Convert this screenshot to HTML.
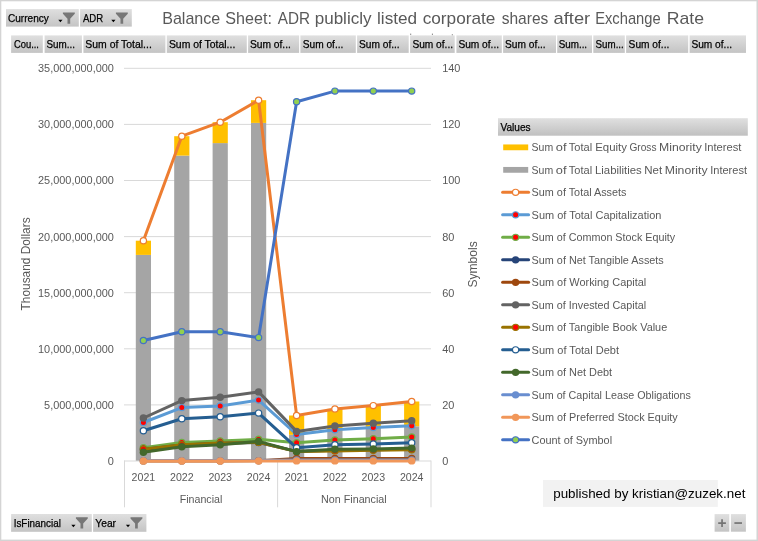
<!DOCTYPE html>
<html lang="en"><head><meta charset="utf-8"><title>Balance Sheet: ADR publicly listed corporate shares after Exchange Rate</title>
<style>
html,body{margin:0;padding:0;background:#fff;}
body{width:758px;height:541px;overflow:hidden;font-family:"Liberation Sans", sans-serif;}
svg{display:block;font-family:"Liberation Sans", sans-serif;}
</style></head><body>
<svg width="758" height="541" viewBox="0 0 758 541">
<defs>
<linearGradient id="btn" x1="0" y1="0" x2="0" y2="1"><stop offset="0" stop-color="#dfdfdf"/><stop offset="1" stop-color="#c4c4c4"/></linearGradient>
<linearGradient id="hdr" x1="0" y1="0" x2="0" y2="1"><stop offset="0" stop-color="#e0e0e0"/><stop offset="1" stop-color="#c0c0c0"/></linearGradient>
</defs>
<rect x="0" y="0" width="758" height="541" fill="#fff"/>

<rect x="0" y="0" width="758" height="1.3" fill="#d4d4d4"/><rect x="0" y="0" width="1.3" height="541" fill="#d4d4d4"/>
<rect x="756.5" y="0" width="1.5" height="541" fill="#d4d4d4"/><rect x="0" y="539.6" width="758" height="1.4" fill="#d4d4d4"/>
<text y="23.9" font-size="16.6" fill="#595959">
<tspan x="162.2" textLength="58.1" lengthAdjust="spacingAndGlyphs">Balance</tspan> 
<tspan x="225.3" textLength="46.6" lengthAdjust="spacingAndGlyphs">Sheet:</tspan> 
<tspan x="277.7" textLength="32.3" lengthAdjust="spacingAndGlyphs">ADR</tspan> 
<tspan x="314.7" textLength="56.8" lengthAdjust="spacingAndGlyphs">publicly</tspan> 
<tspan x="377.0" textLength="40.1" lengthAdjust="spacingAndGlyphs">listed</tspan> 
<tspan x="422.7" textLength="72.7" lengthAdjust="spacingAndGlyphs">corporate</tspan> 
<tspan x="501.7" textLength="46.6" lengthAdjust="spacingAndGlyphs">shares</tspan> 
<tspan x="553.5" textLength="36.7" lengthAdjust="spacingAndGlyphs">after</tspan> 
<tspan x="595.2" textLength="65.5" lengthAdjust="spacingAndGlyphs">Exchange</tspan> 
<tspan x="666.8" textLength="37.3" lengthAdjust="spacingAndGlyphs">Rate</tspan> 
</text>
<rect x="410.2" y="33.7" width="1" height="1" fill="#555"/>
<rect x="431.9" y="33.7" width="1" height="1" fill="#555"/>
<rect x="451.8" y="34.4" width="1" height="1" fill="#555"/>
<rect x="124.0" y="404.40" width="307.0" height="1" fill="#d9d9d9"/>
<rect x="124.0" y="348.30" width="307.0" height="1" fill="#d9d9d9"/>
<rect x="124.0" y="292.20" width="307.0" height="1" fill="#d9d9d9"/>
<rect x="124.0" y="236.10" width="307.0" height="1" fill="#d9d9d9"/>
<rect x="124.0" y="180.00" width="307.0" height="1" fill="#d9d9d9"/>
<rect x="124.0" y="123.90" width="307.0" height="1" fill="#d9d9d9"/>
<rect x="124.0" y="67.80" width="307.0" height="1" fill="#d9d9d9"/>
<text x="113.9" y="464.9" font-size="10.9" fill="#595959" text-anchor="end" textLength="6.1" lengthAdjust="spacingAndGlyphs">0</text>
<text x="113.9" y="408.8" font-size="10.9" fill="#595959" text-anchor="end" textLength="69.8" lengthAdjust="spacingAndGlyphs">5,000,000,000</text>
<text x="113.9" y="352.7" font-size="10.9" fill="#595959" text-anchor="end" textLength="75.9" lengthAdjust="spacingAndGlyphs">10,000,000,000</text>
<text x="113.9" y="296.6" font-size="10.9" fill="#595959" text-anchor="end" textLength="75.9" lengthAdjust="spacingAndGlyphs">15,000,000,000</text>
<text x="113.9" y="240.5" font-size="10.9" fill="#595959" text-anchor="end" textLength="75.9" lengthAdjust="spacingAndGlyphs">20,000,000,000</text>
<text x="113.9" y="184.4" font-size="10.9" fill="#595959" text-anchor="end" textLength="75.9" lengthAdjust="spacingAndGlyphs">25,000,000,000</text>
<text x="113.9" y="128.3" font-size="10.9" fill="#595959" text-anchor="end" textLength="75.9" lengthAdjust="spacingAndGlyphs">30,000,000,000</text>
<text x="113.9" y="72.2" font-size="10.9" fill="#595959" text-anchor="end" textLength="75.9" lengthAdjust="spacingAndGlyphs">35,000,000,000</text>
<text x="442.2" y="464.9" font-size="10.9" fill="#595959" text-anchor="start" textLength="6.1" lengthAdjust="spacingAndGlyphs">0</text>
<text x="442.2" y="408.8" font-size="10.9" fill="#595959" text-anchor="start" textLength="12.2" lengthAdjust="spacingAndGlyphs">20</text>
<text x="442.2" y="352.7" font-size="10.9" fill="#595959" text-anchor="start" textLength="12.2" lengthAdjust="spacingAndGlyphs">40</text>
<text x="442.2" y="296.6" font-size="10.9" fill="#595959" text-anchor="start" textLength="12.2" lengthAdjust="spacingAndGlyphs">60</text>
<text x="442.2" y="240.5" font-size="10.9" fill="#595959" text-anchor="start" textLength="12.2" lengthAdjust="spacingAndGlyphs">80</text>
<text x="442.2" y="184.4" font-size="10.9" fill="#595959" text-anchor="start" textLength="18.2" lengthAdjust="spacingAndGlyphs">100</text>
<text x="442.2" y="128.3" font-size="10.9" fill="#595959" text-anchor="start" textLength="18.2" lengthAdjust="spacingAndGlyphs">120</text>
<text x="442.2" y="72.2" font-size="10.9" fill="#595959" text-anchor="start" textLength="18.2" lengthAdjust="spacingAndGlyphs">140</text>
<text transform="translate(30.2 263.9) rotate(-90)" font-size="12.1" fill="#595959" text-anchor="middle" textLength="93" lengthAdjust="spacingAndGlyphs">Thousand Dollars</text>
<text transform="translate(476.6 264.4) rotate(-90)" font-size="12.1" fill="#595959" text-anchor="middle" textLength="46.3" lengthAdjust="spacingAndGlyphs">Symbols</text>
<rect x="135.80" y="254.9" width="15.2" height="206.10" fill="#a5a5a5"/>
<rect x="135.80" y="240.7" width="15.2" height="14.20" fill="#ffc000"/>
<rect x="174.20" y="155.6" width="15.2" height="305.40" fill="#a5a5a5"/>
<rect x="174.20" y="136.2" width="15.2" height="19.40" fill="#ffc000"/>
<rect x="212.60" y="143.1" width="15.2" height="317.90" fill="#a5a5a5"/>
<rect x="212.60" y="122.2" width="15.2" height="20.90" fill="#ffc000"/>
<rect x="251.00" y="122.9" width="15.2" height="338.10" fill="#a5a5a5"/>
<rect x="251.00" y="100.2" width="15.2" height="22.70" fill="#ffc000"/>
<rect x="289.00" y="434.8" width="15.2" height="26.20" fill="#a5a5a5"/>
<rect x="289.00" y="415.5" width="15.2" height="19.30" fill="#ffc000"/>
<rect x="327.30" y="430.8" width="15.2" height="30.20" fill="#a5a5a5"/>
<rect x="327.30" y="408.9" width="15.2" height="21.90" fill="#ffc000"/>
<rect x="365.70" y="427.9" width="15.2" height="33.10" fill="#a5a5a5"/>
<rect x="365.70" y="405.6" width="15.2" height="22.30" fill="#ffc000"/>
<rect x="404.10" y="426.3" width="15.2" height="34.70" fill="#a5a5a5"/>
<rect x="404.10" y="401.5" width="15.2" height="24.80" fill="#ffc000"/>
<rect x="124.0" y="460.5" width="307.0" height="1" fill="#d9d9d9"/>
<rect x="124.00" y="460.5" width="1" height="46.8" fill="#d9d9d9"/>
<rect x="277.10" y="460.5" width="1" height="46.8" fill="#d9d9d9"/>
<rect x="430.50" y="460.5" width="1" height="46.8" fill="#d9d9d9"/>
<polyline points="143.4,240.7 181.8,136.2 220.2,122.2 258.6,100.2 296.6,415.5 334.9,408.9 373.3,405.6 411.7,401.5" fill="none" stroke="#ed7d31" stroke-width="3.0" stroke-linejoin="round" stroke-linecap="round"/>
<circle cx="143.4" cy="240.7" r="3.12" fill="#ffffff" stroke="#ed7d31" stroke-width="1.2"/>
<circle cx="181.8" cy="136.2" r="3.12" fill="#ffffff" stroke="#ed7d31" stroke-width="1.2"/>
<circle cx="220.2" cy="122.2" r="3.12" fill="#ffffff" stroke="#ed7d31" stroke-width="1.2"/>
<circle cx="258.6" cy="100.2" r="3.12" fill="#ffffff" stroke="#ed7d31" stroke-width="1.2"/>
<circle cx="296.6" cy="415.5" r="3.12" fill="#ffffff" stroke="#ed7d31" stroke-width="1.2"/>
<circle cx="334.9" cy="408.9" r="3.12" fill="#ffffff" stroke="#ed7d31" stroke-width="1.2"/>
<circle cx="373.3" cy="405.6" r="3.12" fill="#ffffff" stroke="#ed7d31" stroke-width="1.2"/>
<circle cx="411.7" cy="401.5" r="3.12" fill="#ffffff" stroke="#ed7d31" stroke-width="1.2"/>
<polyline points="143.4,422.5 181.8,407.6 220.2,406 258.6,400.1 296.6,434.5 334.9,429.8 373.3,427.5 411.7,425.8" fill="none" stroke="#5b9bd5" stroke-width="3.0" stroke-linejoin="round" stroke-linecap="round"/>
<circle cx="143.4" cy="422.5" r="3.12" fill="#ff0000" stroke="#5b9bd5" stroke-width="1.2"/>
<circle cx="181.8" cy="407.6" r="3.12" fill="#ff0000" stroke="#5b9bd5" stroke-width="1.2"/>
<circle cx="220.2" cy="406" r="3.12" fill="#ff0000" stroke="#5b9bd5" stroke-width="1.2"/>
<circle cx="258.6" cy="400.1" r="3.12" fill="#ff0000" stroke="#5b9bd5" stroke-width="1.2"/>
<circle cx="296.6" cy="434.5" r="3.12" fill="#ff0000" stroke="#5b9bd5" stroke-width="1.2"/>
<circle cx="334.9" cy="429.8" r="3.12" fill="#ff0000" stroke="#5b9bd5" stroke-width="1.2"/>
<circle cx="373.3" cy="427.5" r="3.12" fill="#ff0000" stroke="#5b9bd5" stroke-width="1.2"/>
<circle cx="411.7" cy="425.8" r="3.12" fill="#ff0000" stroke="#5b9bd5" stroke-width="1.2"/>
<polyline points="143.4,447.8 181.8,442.5 220.2,440.9 258.6,439.3 296.6,442.8 334.9,440 373.3,438.7 411.7,437" fill="none" stroke="#70ad47" stroke-width="3.0" stroke-linejoin="round" stroke-linecap="round"/>
<circle cx="143.4" cy="447.8" r="3.12" fill="#ff0000" stroke="#70ad47" stroke-width="1.2"/>
<circle cx="181.8" cy="442.5" r="3.12" fill="#ff0000" stroke="#70ad47" stroke-width="1.2"/>
<circle cx="220.2" cy="440.9" r="3.12" fill="#ff0000" stroke="#70ad47" stroke-width="1.2"/>
<circle cx="258.6" cy="439.3" r="3.12" fill="#ff0000" stroke="#70ad47" stroke-width="1.2"/>
<circle cx="296.6" cy="442.8" r="3.12" fill="#ff0000" stroke="#70ad47" stroke-width="1.2"/>
<circle cx="334.9" cy="440" r="3.12" fill="#ff0000" stroke="#70ad47" stroke-width="1.2"/>
<circle cx="373.3" cy="438.7" r="3.12" fill="#ff0000" stroke="#70ad47" stroke-width="1.2"/>
<circle cx="411.7" cy="437" r="3.12" fill="#ff0000" stroke="#70ad47" stroke-width="1.2"/>
<polyline points="143.4,449.5 181.8,444.9 220.2,443.3 258.6,442.5 296.6,451.4 334.9,450.3 373.3,449.8 411.7,449.2" fill="none" stroke="#264478" stroke-width="3.0" stroke-linejoin="round" stroke-linecap="round"/>
<circle cx="143.4" cy="449.5" r="3.72" fill="#264478"/>
<circle cx="181.8" cy="444.9" r="3.72" fill="#264478"/>
<circle cx="220.2" cy="443.3" r="3.72" fill="#264478"/>
<circle cx="258.6" cy="442.5" r="3.72" fill="#264478"/>
<circle cx="296.6" cy="451.4" r="3.72" fill="#264478"/>
<circle cx="334.9" cy="450.3" r="3.72" fill="#264478"/>
<circle cx="373.3" cy="449.8" r="3.72" fill="#264478"/>
<circle cx="411.7" cy="449.2" r="3.72" fill="#264478"/>
<polyline points="143.4,460.9 181.8,460.9 220.2,460.9 258.6,460.8 296.6,458.4 334.9,458.4 373.3,458.4 411.7,458.4" fill="none" stroke="#9e480e" stroke-width="3.0" stroke-linejoin="round" stroke-linecap="round"/>
<circle cx="143.4" cy="460.9" r="3.72" fill="#9e480e"/>
<circle cx="181.8" cy="460.9" r="3.72" fill="#9e480e"/>
<circle cx="220.2" cy="460.9" r="3.72" fill="#9e480e"/>
<circle cx="258.6" cy="460.8" r="3.72" fill="#9e480e"/>
<circle cx="296.6" cy="458.4" r="3.72" fill="#9e480e"/>
<circle cx="334.9" cy="458.4" r="3.72" fill="#9e480e"/>
<circle cx="373.3" cy="458.4" r="3.72" fill="#9e480e"/>
<circle cx="411.7" cy="458.4" r="3.72" fill="#9e480e"/>
<polyline points="143.4,418 181.8,400.6 220.2,397.3 258.6,391.9 296.6,431.4 334.9,426 373.3,423.3 411.7,420.8" fill="none" stroke="#636363" stroke-width="3.0" stroke-linejoin="round" stroke-linecap="round"/>
<circle cx="143.4" cy="418" r="3.72" fill="#636363"/>
<circle cx="181.8" cy="400.6" r="3.72" fill="#636363"/>
<circle cx="220.2" cy="397.3" r="3.72" fill="#636363"/>
<circle cx="258.6" cy="391.9" r="3.72" fill="#636363"/>
<circle cx="296.6" cy="431.4" r="3.72" fill="#636363"/>
<circle cx="334.9" cy="426" r="3.72" fill="#636363"/>
<circle cx="373.3" cy="423.3" r="3.72" fill="#636363"/>
<circle cx="411.7" cy="420.8" r="3.72" fill="#636363"/>
<polyline points="143.4,449.3 181.8,444.7 220.2,443.1 258.6,442.4 296.6,451.6 334.9,450.9 373.3,450.3 411.7,449.7" fill="none" stroke="#997300" stroke-width="3.0" stroke-linejoin="round" stroke-linecap="round"/>
<circle cx="143.4" cy="449.3" r="3.12" fill="#ff0000" stroke="#997300" stroke-width="1.2"/>
<circle cx="181.8" cy="444.7" r="3.12" fill="#ff0000" stroke="#997300" stroke-width="1.2"/>
<circle cx="220.2" cy="443.1" r="3.12" fill="#ff0000" stroke="#997300" stroke-width="1.2"/>
<circle cx="258.6" cy="442.4" r="3.12" fill="#ff0000" stroke="#997300" stroke-width="1.2"/>
<circle cx="296.6" cy="451.6" r="3.12" fill="#ff0000" stroke="#997300" stroke-width="1.2"/>
<circle cx="334.9" cy="450.9" r="3.12" fill="#ff0000" stroke="#997300" stroke-width="1.2"/>
<circle cx="373.3" cy="450.3" r="3.12" fill="#ff0000" stroke="#997300" stroke-width="1.2"/>
<circle cx="411.7" cy="449.7" r="3.12" fill="#ff0000" stroke="#997300" stroke-width="1.2"/>
<polyline points="143.4,430.7 181.8,418.8 220.2,416.8 258.6,413.1 296.6,447.8 334.9,444.7 373.3,444 411.7,442.8" fill="none" stroke="#255e91" stroke-width="3.0" stroke-linejoin="round" stroke-linecap="round"/>
<circle cx="143.4" cy="430.7" r="3.12" fill="#ffffff" stroke="#255e91" stroke-width="1.2"/>
<circle cx="181.8" cy="418.8" r="3.12" fill="#ffffff" stroke="#255e91" stroke-width="1.2"/>
<circle cx="220.2" cy="416.8" r="3.12" fill="#ffffff" stroke="#255e91" stroke-width="1.2"/>
<circle cx="258.6" cy="413.1" r="3.12" fill="#ffffff" stroke="#255e91" stroke-width="1.2"/>
<circle cx="296.6" cy="447.8" r="3.12" fill="#ffffff" stroke="#255e91" stroke-width="1.2"/>
<circle cx="334.9" cy="444.7" r="3.12" fill="#ffffff" stroke="#255e91" stroke-width="1.2"/>
<circle cx="373.3" cy="444" r="3.12" fill="#ffffff" stroke="#255e91" stroke-width="1.2"/>
<circle cx="411.7" cy="442.8" r="3.12" fill="#ffffff" stroke="#255e91" stroke-width="1.2"/>
<polyline points="143.4,452.2 181.8,446.8 220.2,444.7 258.6,441.4 296.6,451.6 334.9,449.2 373.3,449 411.7,448.1" fill="none" stroke="#43682b" stroke-width="3.0" stroke-linejoin="round" stroke-linecap="round"/>
<circle cx="143.4" cy="452.2" r="3.72" fill="#43682b"/>
<circle cx="181.8" cy="446.8" r="3.72" fill="#43682b"/>
<circle cx="220.2" cy="444.7" r="3.72" fill="#43682b"/>
<circle cx="258.6" cy="441.4" r="3.72" fill="#43682b"/>
<circle cx="296.6" cy="451.6" r="3.72" fill="#43682b"/>
<circle cx="334.9" cy="449.2" r="3.72" fill="#43682b"/>
<circle cx="373.3" cy="449" r="3.72" fill="#43682b"/>
<circle cx="411.7" cy="448.1" r="3.72" fill="#43682b"/>
<polyline points="143.4,460.6 181.8,460.6 220.2,460.6 258.6,460.6 296.6,460.0 334.9,460.0 373.3,460.0 411.7,460.0" fill="none" stroke="#698ed0" stroke-width="3.0" stroke-linejoin="round" stroke-linecap="round"/>
<circle cx="143.4" cy="460.6" r="3.72" fill="#698ed0"/>
<circle cx="181.8" cy="460.6" r="3.72" fill="#698ed0"/>
<circle cx="220.2" cy="460.6" r="3.72" fill="#698ed0"/>
<circle cx="258.6" cy="460.6" r="3.72" fill="#698ed0"/>
<circle cx="296.6" cy="460.0" r="3.72" fill="#698ed0"/>
<circle cx="334.9" cy="460.0" r="3.72" fill="#698ed0"/>
<circle cx="373.3" cy="460.0" r="3.72" fill="#698ed0"/>
<circle cx="411.7" cy="460.0" r="3.72" fill="#698ed0"/>
<polyline points="143.4,460.9 181.8,460.9 220.2,460.9 258.6,460.9 296.6,460.9 334.9,460.9 373.3,460.9 411.7,460.9" fill="none" stroke="#f1975a" stroke-width="3.0" stroke-linejoin="round" stroke-linecap="round"/>
<circle cx="143.4" cy="460.9" r="3.72" fill="#f1975a"/>
<circle cx="181.8" cy="460.9" r="3.72" fill="#f1975a"/>
<circle cx="220.2" cy="460.9" r="3.72" fill="#f1975a"/>
<circle cx="258.6" cy="460.9" r="3.72" fill="#f1975a"/>
<circle cx="296.6" cy="460.9" r="3.72" fill="#f1975a"/>
<circle cx="334.9" cy="460.9" r="3.72" fill="#f1975a"/>
<circle cx="373.3" cy="460.9" r="3.72" fill="#f1975a"/>
<circle cx="411.7" cy="460.9" r="3.72" fill="#f1975a"/>
<polyline points="143.4,340.5 181.8,331.8 220.2,331.8 258.6,337.6 296.6,101.7 334.9,91.1 373.3,91.1 411.7,91.1" fill="none" stroke="#4472c4" stroke-width="3.0" stroke-linejoin="round" stroke-linecap="round"/>
<circle cx="143.4" cy="340.5" r="3.12" fill="#92d050" stroke="#4472c4" stroke-width="1.2"/>
<circle cx="181.8" cy="331.8" r="3.12" fill="#92d050" stroke="#4472c4" stroke-width="1.2"/>
<circle cx="220.2" cy="331.8" r="3.12" fill="#92d050" stroke="#4472c4" stroke-width="1.2"/>
<circle cx="258.6" cy="337.6" r="3.12" fill="#92d050" stroke="#4472c4" stroke-width="1.2"/>
<circle cx="296.6" cy="101.7" r="3.12" fill="#92d050" stroke="#4472c4" stroke-width="1.2"/>
<circle cx="334.9" cy="91.1" r="3.12" fill="#92d050" stroke="#4472c4" stroke-width="1.2"/>
<circle cx="373.3" cy="91.1" r="3.12" fill="#92d050" stroke="#4472c4" stroke-width="1.2"/>
<circle cx="411.7" cy="91.1" r="3.12" fill="#92d050" stroke="#4472c4" stroke-width="1.2"/>
<text x="143.4" y="480.6" font-size="10.9" fill="#595959" text-anchor="middle" textLength="23.6" lengthAdjust="spacingAndGlyphs">2021</text>
<text x="181.8" y="480.6" font-size="10.9" fill="#595959" text-anchor="middle" textLength="23.6" lengthAdjust="spacingAndGlyphs">2022</text>
<text x="220.2" y="480.6" font-size="10.9" fill="#595959" text-anchor="middle" textLength="23.6" lengthAdjust="spacingAndGlyphs">2023</text>
<text x="258.6" y="480.6" font-size="10.9" fill="#595959" text-anchor="middle" textLength="23.6" lengthAdjust="spacingAndGlyphs">2024</text>
<text x="296.6" y="480.6" font-size="10.9" fill="#595959" text-anchor="middle" textLength="23.6" lengthAdjust="spacingAndGlyphs">2021</text>
<text x="334.9" y="480.6" font-size="10.9" fill="#595959" text-anchor="middle" textLength="23.6" lengthAdjust="spacingAndGlyphs">2022</text>
<text x="373.3" y="480.6" font-size="10.9" fill="#595959" text-anchor="middle" textLength="23.6" lengthAdjust="spacingAndGlyphs">2023</text>
<text x="411.7" y="480.6" font-size="10.9" fill="#595959" text-anchor="middle" textLength="23.6" lengthAdjust="spacingAndGlyphs">2024</text>
<text x="201" y="503.0" font-size="10.9" fill="#595959" text-anchor="middle" textLength="42.6" lengthAdjust="spacingAndGlyphs">Financial</text>
<text x="353.9" y="503.0" font-size="10.9" fill="#595959" text-anchor="middle" textLength="65.6" lengthAdjust="spacingAndGlyphs">Non Financial</text>
<rect x="498" y="118.2" width="249.79999999999995" height="17.5" fill="url(#hdr)"/>
<text x="500.4" y="130.7" font-size="11.4" fill="#000" text-anchor="start" textLength="30.2" lengthAdjust="spacingAndGlyphs" stroke="#000" stroke-width="0.25">Values</text>
<rect x="503.2" y="144.45" width="25" height="5.8" fill="#ffc000"/>
<text y="151.05" font-size="10.9" fill="#595959"><tspan x="531.6" textLength="21.6" lengthAdjust="spacingAndGlyphs">Sum</tspan> <tspan x="555.8" textLength="10.7" lengthAdjust="spacingAndGlyphs">of</tspan> <tspan x="568.8" textLength="23.3" lengthAdjust="spacingAndGlyphs">Total</tspan> <tspan x="595.2" textLength="31.8" lengthAdjust="spacingAndGlyphs">Equity</tspan> <tspan x="629.4" textLength="27.1" lengthAdjust="spacingAndGlyphs">Gross</tspan> <tspan x="659.0" textLength="42.8" lengthAdjust="spacingAndGlyphs">Minority</tspan> <tspan x="704.2" textLength="37.3" lengthAdjust="spacingAndGlyphs">Interest</tspan></text>
<rect x="503.2" y="166.95" width="25" height="5.8" fill="#a5a5a5"/>
<text y="173.55" font-size="10.9" fill="#595959"><tspan x="531.6" textLength="21.6" lengthAdjust="spacingAndGlyphs">Sum</tspan> <tspan x="555.8" textLength="10.7" lengthAdjust="spacingAndGlyphs">of</tspan> <tspan x="568.8" textLength="23.3" lengthAdjust="spacingAndGlyphs">Total</tspan> <tspan x="595.0" textLength="46.8" lengthAdjust="spacingAndGlyphs">Liabilities</tspan> <tspan x="644.3" textLength="17.9" lengthAdjust="spacingAndGlyphs">Net</tspan> <tspan x="664.7" textLength="42.9" lengthAdjust="spacingAndGlyphs">Minority</tspan> <tspan x="710.2" textLength="36.8" lengthAdjust="spacingAndGlyphs">Interest</tspan></text>
<line x1="502.6" y1="192.35" x2="528.6" y2="192.35" stroke="#ed7d31" stroke-width="3.0" stroke-linecap="round"/>
<circle cx="515.6" cy="192.35" r="3.12" fill="#ffffff" stroke="#ed7d31" stroke-width="1.2"/>
<text x="531.6" y="196.05" font-size="10.9" fill="#595959" text-anchor="start" textLength="94.9" lengthAdjust="spacingAndGlyphs">Sum of Total Assets</text>
<line x1="502.6" y1="214.85" x2="528.6" y2="214.85" stroke="#5b9bd5" stroke-width="3.0" stroke-linecap="round"/>
<circle cx="515.6" cy="214.85" r="3.12" fill="#ff0000" stroke="#5b9bd5" stroke-width="1.2"/>
<text x="531.6" y="218.55" font-size="10.9" fill="#595959" text-anchor="start" textLength="129.8" lengthAdjust="spacingAndGlyphs">Sum of Total Capitalization</text>
<line x1="502.6" y1="237.35" x2="528.6" y2="237.35" stroke="#70ad47" stroke-width="3.0" stroke-linecap="round"/>
<circle cx="515.6" cy="237.35" r="3.12" fill="#ff0000" stroke="#70ad47" stroke-width="1.2"/>
<text x="531.6" y="241.05" font-size="10.9" fill="#595959" text-anchor="start" textLength="143.6" lengthAdjust="spacingAndGlyphs">Sum of Common Stock Equity</text>
<line x1="502.6" y1="259.85" x2="528.6" y2="259.85" stroke="#264478" stroke-width="3.0" stroke-linecap="round"/>
<circle cx="515.6" cy="259.85" r="3.72" fill="#264478"/>
<text x="531.6" y="263.55" font-size="10.9" fill="#595959" text-anchor="start" textLength="132.2" lengthAdjust="spacingAndGlyphs">Sum of Net Tangible Assets</text>
<line x1="502.6" y1="282.35" x2="528.6" y2="282.35" stroke="#9e480e" stroke-width="3.0" stroke-linecap="round"/>
<circle cx="515.6" cy="282.35" r="3.72" fill="#9e480e"/>
<text x="531.6" y="286.05" font-size="10.9" fill="#595959" text-anchor="start" textLength="114.7" lengthAdjust="spacingAndGlyphs">Sum of Working Capital</text>
<line x1="502.6" y1="304.85" x2="528.6" y2="304.85" stroke="#636363" stroke-width="3.0" stroke-linecap="round"/>
<circle cx="515.6" cy="304.85" r="3.72" fill="#636363"/>
<text x="531.6" y="308.55" font-size="10.9" fill="#595959" text-anchor="start" textLength="114.5" lengthAdjust="spacingAndGlyphs">Sum of Invested Capital</text>
<line x1="502.6" y1="327.35" x2="528.6" y2="327.35" stroke="#997300" stroke-width="3.0" stroke-linecap="round"/>
<circle cx="515.6" cy="327.35" r="3.12" fill="#ff0000" stroke="#997300" stroke-width="1.2"/>
<text x="531.6" y="331.05" font-size="10.9" fill="#595959" text-anchor="start" textLength="135.6" lengthAdjust="spacingAndGlyphs">Sum of Tangible Book Value</text>
<line x1="502.6" y1="349.85" x2="528.6" y2="349.85" stroke="#255e91" stroke-width="3.0" stroke-linecap="round"/>
<circle cx="515.6" cy="349.85" r="3.12" fill="#ffffff" stroke="#255e91" stroke-width="1.2"/>
<text x="531.6" y="353.55" font-size="10.9" fill="#595959" text-anchor="start" textLength="87.4" lengthAdjust="spacingAndGlyphs">Sum of Total Debt</text>
<line x1="502.6" y1="372.35" x2="528.6" y2="372.35" stroke="#43682b" stroke-width="3.0" stroke-linecap="round"/>
<circle cx="515.6" cy="372.35" r="3.72" fill="#43682b"/>
<text x="531.6" y="376.05" font-size="10.9" fill="#595959" text-anchor="start" textLength="80.5" lengthAdjust="spacingAndGlyphs">Sum of Net Debt</text>
<line x1="502.6" y1="394.85" x2="528.6" y2="394.85" stroke="#698ed0" stroke-width="3.0" stroke-linecap="round"/>
<circle cx="515.6" cy="394.85" r="3.72" fill="#698ed0"/>
<text x="531.6" y="398.55" font-size="10.9" fill="#595959" text-anchor="start" textLength="159.3" lengthAdjust="spacingAndGlyphs">Sum of Capital Lease Obligations</text>
<line x1="502.6" y1="417.35" x2="528.6" y2="417.35" stroke="#f1975a" stroke-width="3.0" stroke-linecap="round"/>
<circle cx="515.6" cy="417.35" r="3.72" fill="#f1975a"/>
<text x="531.6" y="421.05" font-size="10.9" fill="#595959" text-anchor="start" textLength="146.2" lengthAdjust="spacingAndGlyphs">Sum of Preferred Stock Equity</text>
<line x1="502.6" y1="439.85" x2="528.6" y2="439.85" stroke="#4472c4" stroke-width="3.0" stroke-linecap="round"/>
<circle cx="515.6" cy="439.85" r="3.12" fill="#92d050" stroke="#4472c4" stroke-width="1.2"/>
<text x="531.6" y="443.55" font-size="10.9" fill="#595959" text-anchor="start" textLength="80.5" lengthAdjust="spacingAndGlyphs">Count of Symbol</text>
<rect x="543" y="480" width="174.8" height="26.9" fill="#f2f2f2"/>
<text x="553.2" y="498.2" font-size="12.2" fill="#000" text-anchor="start" textLength="192.2" lengthAdjust="spacingAndGlyphs">published by kristian@zuzek.net</text>
<rect x="6" y="9.1" width="72.80" height="17.50" fill="url(#btn)"/><text x="8.0" y="21.8" font-size="11.2" fill="#000" text-anchor="start" textLength="40.8" lengthAdjust="spacingAndGlyphs" stroke="#000" stroke-width="0.25">Currency</text><path d="M62.90 12.40h11.9v1.3l-4.6 5v5h-2.7v-5l-4.6-5z" fill="#777"/><path d="M58.30 19.80h4.2l-2.1 2.5z" fill="#000"/>
<rect x="80.1" y="9.1" width="51.70" height="17.50" fill="url(#btn)"/><text x="82.9" y="21.8" font-size="11.2" fill="#000" text-anchor="start" textLength="20.2" lengthAdjust="spacingAndGlyphs" stroke="#000" stroke-width="0.25">ADR</text><path d="M115.90 12.40h11.9v1.3l-4.6 5v5h-2.7v-5l-4.6-5z" fill="#777"/><path d="M111.30 19.80h4.2l-2.1 2.5z" fill="#000"/>
<rect x="11.1" y="35.4" width="31.70" height="17.50" fill="url(#btn)"/><text x="13.899999999999999" y="48.1" font-size="11.2" fill="#000" text-anchor="start" textLength="25.1" lengthAdjust="spacingAndGlyphs" stroke="#000" stroke-width="0.25">Cou...</text>
<rect x="44.6" y="35.4" width="37.30" height="17.50" fill="url(#btn)"/><text x="46.5" y="48.1" font-size="11.2" fill="#000" text-anchor="start" textLength="28.5" lengthAdjust="spacingAndGlyphs" stroke="#000" stroke-width="0.25">Sum...</text>
<rect x="83.4" y="35.4" width="82.00" height="17.50" fill="url(#btn)"/><text x="85.3" y="48.1" font-size="11.2" fill="#000" text-anchor="start" textLength="66.5" lengthAdjust="spacingAndGlyphs" stroke="#000" stroke-width="0.25">Sum of Total...</text>
<rect x="166.8" y="35.4" width="80.00" height="17.50" fill="url(#btn)"/><text x="168.89999999999998" y="48.1" font-size="11.2" fill="#000" text-anchor="start" textLength="66.4" lengthAdjust="spacingAndGlyphs" stroke="#000" stroke-width="0.25">Sum of Total...</text>
<rect x="248.1" y="35.4" width="51.00" height="17.50" fill="url(#btn)"/><text x="249.89999999999998" y="48.1" font-size="11.2" fill="#000" text-anchor="start" textLength="41.0" lengthAdjust="spacingAndGlyphs" stroke="#000" stroke-width="0.25">Sum of...</text>
<rect x="300.4" y="35.4" width="55.40" height="17.50" fill="url(#btn)"/><text x="302.7" y="48.1" font-size="11.2" fill="#000" text-anchor="start" textLength="40.7" lengthAdjust="spacingAndGlyphs" stroke="#000" stroke-width="0.25">Sum of...</text>
<rect x="357.1" y="35.4" width="51.60" height="17.50" fill="url(#btn)"/><text x="359.0" y="48.1" font-size="11.2" fill="#000" text-anchor="start" textLength="40.7" lengthAdjust="spacingAndGlyphs" stroke="#000" stroke-width="0.25">Sum of...</text>
<rect x="410.1" y="35.4" width="44.60" height="17.50" fill="url(#btn)"/><text x="412.4" y="48.1" font-size="11.2" fill="#000" text-anchor="start" textLength="40.7" lengthAdjust="spacingAndGlyphs" stroke="#000" stroke-width="0.25">Sum of...</text>
<rect x="456.4" y="35.4" width="45.40" height="17.50" fill="url(#btn)"/><text x="458.4" y="48.1" font-size="11.2" fill="#000" text-anchor="start" textLength="40.7" lengthAdjust="spacingAndGlyphs" stroke="#000" stroke-width="0.25">Sum of...</text>
<rect x="503.1" y="35.4" width="52.90" height="17.50" fill="url(#btn)"/><text x="505.0" y="48.1" font-size="11.2" fill="#000" text-anchor="start" textLength="40.7" lengthAdjust="spacingAndGlyphs" stroke="#000" stroke-width="0.25">Sum of...</text>
<rect x="557.2" y="35.4" width="34.80" height="17.50" fill="url(#btn)"/><text x="558.7" y="48.1" font-size="11.2" fill="#000" text-anchor="start" textLength="28.4" lengthAdjust="spacingAndGlyphs" stroke="#000" stroke-width="0.25">Sum...</text>
<rect x="593.3" y="35.4" width="31.50" height="17.50" fill="url(#btn)"/><text x="595.6" y="48.1" font-size="11.2" fill="#000" text-anchor="start" textLength="28.2" lengthAdjust="spacingAndGlyphs" stroke="#000" stroke-width="0.25">Sum...</text>
<rect x="626.1" y="35.4" width="62.10" height="17.50" fill="url(#btn)"/><text x="628.6" y="48.1" font-size="11.2" fill="#000" text-anchor="start" textLength="40.7" lengthAdjust="spacingAndGlyphs" stroke="#000" stroke-width="0.25">Sum of...</text>
<rect x="689.6" y="35.4" width="56.40" height="17.50" fill="url(#btn)"/><text x="691.4000000000001" y="48.1" font-size="11.2" fill="#000" text-anchor="start" textLength="40.7" lengthAdjust="spacingAndGlyphs" stroke="#000" stroke-width="0.25">Sum of...</text>
<rect x="11.1" y="514" width="80.70" height="17.80" fill="url(#btn)"/><text x="13.7" y="527.1" font-size="11.2" fill="#000" text-anchor="start" textLength="47.2" lengthAdjust="spacingAndGlyphs" stroke="#000" stroke-width="0.25">IsFinancial</text><path d="M75.90 517.30h11.9v1.3l-4.6 5v5h-2.7v-5l-4.6-5z" fill="#777"/><path d="M71.30 524.70h4.2l-2.1 2.5z" fill="#000"/>
<rect x="93.1" y="514" width="53.30" height="17.80" fill="url(#btn)"/><text x="95.3" y="527.1" font-size="11.2" fill="#000" text-anchor="start" textLength="20.7" lengthAdjust="spacingAndGlyphs" stroke="#000" stroke-width="0.25">Year</text><path d="M130.50 517.30h11.9v1.3l-4.6 5v5h-2.7v-5l-4.6-5z" fill="#777"/><path d="M125.90 524.70h4.2l-2.1 2.5z" fill="#000"/>
<rect x="714.6" y="514.1" width="14.7" height="17.6" fill="url(#btn)"/><rect x="730.9" y="514.1" width="15" height="17.6" fill="url(#btn)"/>
<path d="M718.2 522.2h3v-3h1.7v3h3v1.7h-3v3h-1.7v-3h-3z" fill="#747474"/><rect x="734.4" y="522.2" width="7.6" height="1.7" fill="#747474"/>
</svg></body></html>
